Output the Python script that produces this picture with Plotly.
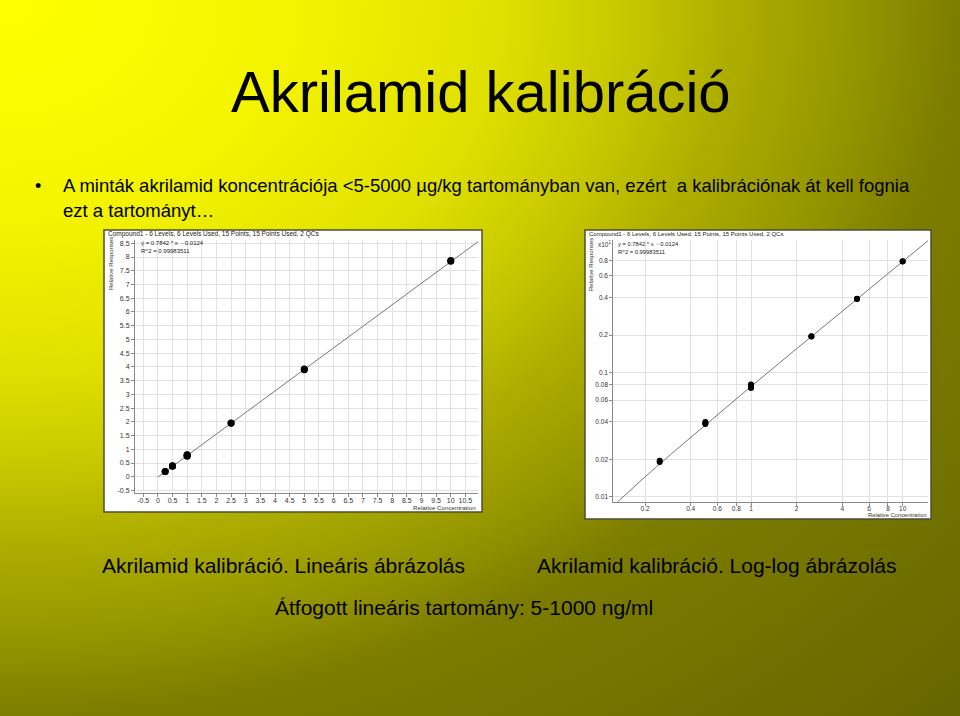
"""
 Akrilamid kalibracio - linear and log-log calibration plots on one slide
"""

import base64
from plotly.graph_objects import Scatter, Figure

# data
conc = [0.25, 0.25, 0.5, 0.5, 0.5, 1, 1, 1, 1, 2.5, 2.5, 5, 5, 10, 10]
resp = [0.19, 0.195, 0.385, 0.39, 0.40, 0.75, 0.77, 0.79, 0.80,
        1.95, 1.96, 3.90, 3.92, 7.85, 7.87]
slope = 0.7842
intercept = -0.0124
fit_x_lin = [0, 10.93]
fit_x_log = [0.12, 0.14, 0.17, 0.2, 0.3, 0.5, 1, 2, 5, 10, 15]

lin_ticks = [-0.5, 0, 0.5, 1, 1.5, 2, 2.5, 3, 3.5, 4, 4.5, 5, 5.5, 6, 6.5,
             7, 7.5, 8, 8.5, 9, 9.5, 10, 10.5]
log_x_ticks = [0.2, 0.4, 0.6, 0.8, 1, 2, 4, 6, 8, 10]
log_y_ticks = [0.1, 0.2, 0.4, 0.6, 0.8, 1, 2, 4, 6, 8]
log_y_labels = ["0.01", "0.02", "0.04", "0.06", "0.08",
                "0.1", "0.2", "0.4", "0.6", "0.8"]

title = "Akrilamid kalibráció"
bullet = ["A minták akrilamid koncentrációja <5-5000 µg/kg tartományban van, ezért  a kalibrációnak át kell fognia",
          "ezt a tartományt…"]
cap_lin = "Akrilamid kalibráció. Lineáris ábrázolás"
cap_log = "Akrilamid kalibráció. Log-log ábrázolás"
cap_range = "Átfogott lineáris tartomány: 5-1000 ng/ml"
chart_head = "Compound1 - 6 Levels, 6 Levels Used, 15 Points, 15 Points Used, 2 QCs"
eq_text = "y = 0.7842 * x  - 0.0124<br>R^2 = 0.99983511"

W, H = 960, 716
FONT = "Liberation Sans, Arial"


def px(x, y):
    """pixel -> paper coords"""
    return x / W, 1 - y / H


def background():
    """radial yellow -> olive gradient as svg data uri"""
    stops = [(0, "#ffff00"), (0.212, "#f4f400"), (0.367, "#e0e000"),
             (0.466, "#c6c600"), (0.536, "#aeae00"), (0.635, "#949400"),
             (0.706, "#7c7c00"), (1, "#666600")]
    st = "".join('<stop offset="%g" stop-color="%s"/>' % s for s in stops)
    svg = ('<svg xmlns="http://www.w3.org/2000/svg" width="960" height="716" '
           'viewBox="0 0 960 716" preserveAspectRatio="none"><defs>'
           '<radialGradient id="g" gradientUnits="userSpaceOnUse" cx="0" cy="0" '
           'r="1360" gradientTransform="scale(1 0.746)">' + st +
           '</radialGradient></defs><rect width="960" height="716" fill="url(#g)"/></svg>')
    return "data:image/svg+xml;base64," + base64.b64encode(svg.encode()).decode()


fig = Figure()

# linear plot
fig.add_trace(Scatter(x=fit_x_lin, y=[slope * v + intercept for v in fit_x_lin],
                      mode="lines", line=dict(color="#777777", width=1),
                      xaxis="x", yaxis="y", hoverinfo="skip"))
fig.add_trace(Scatter(x=conc, y=resp, mode="markers",
                      marker=dict(color="black", size=7),
                      xaxis="x", yaxis="y"))

# log-log plot
fig.add_trace(Scatter(x=fit_x_log, y=[slope * v + intercept for v in fit_x_log],
                      mode="lines", line=dict(color="#777777", width=1),
                      xaxis="x2", yaxis="y2", hoverinfo="skip"))
fig.add_trace(Scatter(x=conc, y=resp, mode="markers",
                      marker=dict(color="black", size=6),
                      xaxis="x2", yaxis="y2"))

axis_common = dict(showgrid=True, gridcolor="#e2e2e2", gridwidth=1,
                   showline=True, linecolor="#8a8a8a", linewidth=1,
                   ticks="outside", ticklen=3, tickcolor="#8a8a8a",
                   zeroline=False, mirror=False)
tick7 = dict(family=FONT, size=7, color="#333333")
tick6 = dict(family=FONT, size=6.5, color="#333333")

x0, _ = px(135, 0)
x1, _ = px(478, 0)
_, yt = px(0, 240)
_, yb = px(0, 492.7)
lin_text = ["%g" % v for v in lin_ticks]
fig.update_layout(
    xaxis=dict(domain=[x0, x1], anchor="y", range=[-0.78, 10.93],
               tickvals=lin_ticks, ticktext=lin_text, ticklabelstandoff=-2,
               tickfont=tick7, **axis_common),
    yaxis=dict(domain=[yb, yt], anchor="x", range=[-0.58, 8.62],
               tickvals=lin_ticks[:19], ticktext=lin_text[:19],
               tickfont=tick7, **axis_common),
)

x0, _ = px(613.3, 0)
x1, _ = px(928, 0)
_, yb = px(0, 501.7)
fig.update_layout(
    xaxis2=dict(domain=[x0, x1], anchor="y2", type="log", range=[-0.908, 1.167],
                tickvals=log_x_ticks, ticktext=["%g" % v for v in log_x_ticks],
                ticklabelstandoff=-3, tickfont=tick6, **axis_common),
    yaxis2=dict(domain=[yb, yt], anchor="x2", type="log", range=[-1.04, 1.067],
                tickvals=log_y_ticks, ticktext=log_y_labels,
                tickfont=tick6, **axis_common),
)

# white chart panels
shapes = []
for (a, b, c, d) in [(104, 230, 482, 512), (585, 230, 931, 519)]:
    p0 = px(a, d)
    p1 = px(c, b)
    shapes.append(dict(type="rect", xref="paper", yref="paper", layer="below",
                       x0=p0[0], y0=p0[1], x1=p1[0], y1=p1[1],
                       fillcolor="white", line=dict(color="#4d4d33", width=1.5)))


def note(text, x, y, size, xanchor="left", color="black", angle=0):
    """annotation placed in pixel coordinates"""
    xp, yp = px(x, y)
    return dict(text=text, x=xp, y=yp, xref="paper", yref="paper",
                xanchor=xanchor, yanchor="middle", showarrow=False,
                textangle=angle, align="left",
                font=dict(family=FONT, size=size, color=color))


annotations = [
    note(title, 481, 91, 58, xanchor="center"),
    note("•", 38, 186, 18, xanchor="center"),
    note(bullet[0], 61, 186, 18.5),
    note(bullet[1], 61, 211, 18.5),
    note(cap_lin, 283, 565, 21, xanchor="center"),
    note(cap_log, 717, 565, 21, xanchor="center"),
    note(cap_range, 464, 607, 21, xanchor="center"),
    # linear chart texts
    note(chart_head, 106, 234, 6.5, color="#222222"),
    note(eq_text, 139, 247, 6, color="#222222"),
    note("Relative Responses", 111, 264, 6, xanchor="center",
         color="#333333", angle=-90),
    note("Relative Concentration", 478, 507, 6.2, xanchor="right",
         color="#333333"),
    # log chart texts
    note(chart_head, 587, 234, 6, color="#222222"),
    note(eq_text, 616, 248, 5.8, color="#222222"),
    note("Relative Responses", 591, 265, 6, xanchor="center",
         color="#333333", angle=-90),
    note("Relative Concentration", 929, 515, 5.8, xanchor="right",
         color="#333333"),
    note("x10<sup>1</sup>", 596, 244, 6.5, color="#333333"),
]

fig.update_layout(
    width=W, height=H, margin=dict(l=0, r=0, t=0, b=0),
    paper_bgcolor="#8a8a00", plot_bgcolor="rgba(0,0,0,0)",
    showlegend=False, shapes=shapes, annotations=annotations,
    images=[dict(source=background(), xref="paper", yref="paper", x=0, y=1,
                 sizex=1, sizey=1, sizing="stretch", layer="below",
                 xanchor="left", yanchor="top")],
)

fig.write_html("out.html", config={"displayModeBar": False},
               post_script="document.body.style.margin = '0';")
